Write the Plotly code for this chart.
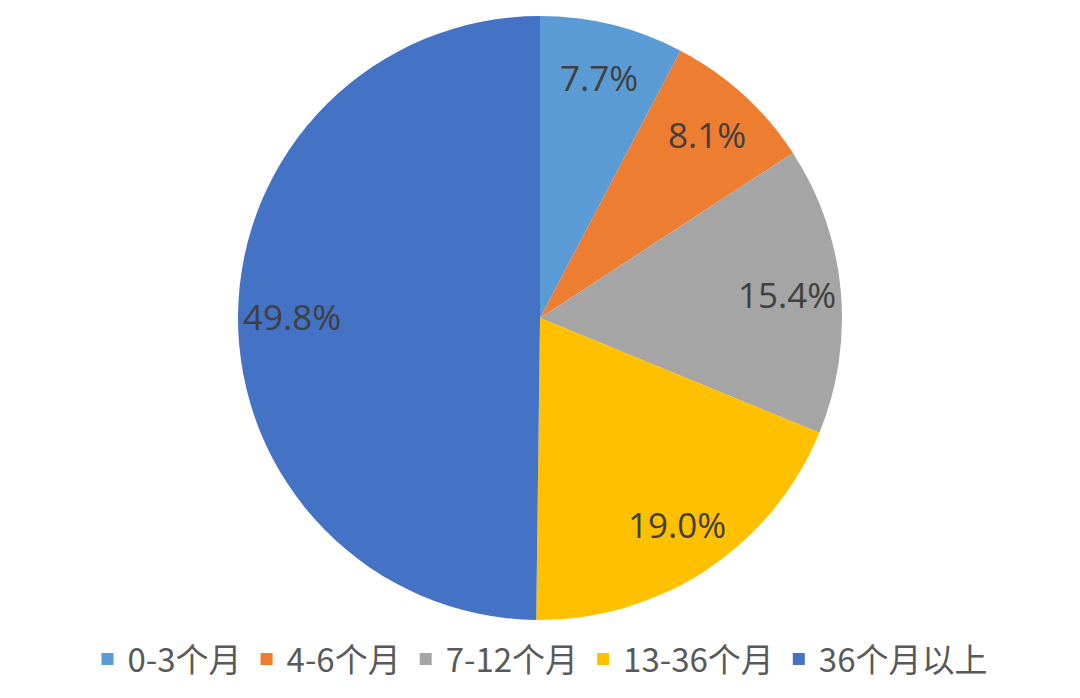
import math

import plotly.graph_objects as go

labels = ["0-3个月", "4-6个月", "7-12个月", "13-36个月", "36个月以上"]
shares = [7.7, 8.1, 15.4, 19.0, 49.8]
colors = ["#5B9BD5", "#ED7D31", "#A5A5A5", "#FFC000", "#4472C4"]

W, H = 1080, 698
# page body has an 8px margin, so figure coords are screen coords minus 8
CX, CY, R = 532, 310, 302
LABEL_R = 0.82

fig = go.Figure(go.Pie(
    labels=labels, values=shares, sort=False, direction="clockwise", rotation=0,
    marker=dict(colors=colors, line=dict(width=0)),
    textinfo="none", hoverinfo="label+percent",
    domain=dict(x=[0, 2 * CX / W], y=[(H - CY - R) / H, (H - CY + R) / H]),
))

# data labels at the slice mid-angles, like Excel's best-fit placement
total = sum(shares)
cum = 0.0
for v in shares:
    mid = (cum + v / 2) / total * 2 * math.pi
    cum += v
    x = CX + LABEL_R * R * math.sin(mid)
    y = CY - LABEL_R * R * math.cos(mid)
    fig.add_annotation(
        x=x / W, y=1 - y / H, xref="paper", yref="paper", text=f"{v:.1f}%", showarrow=False,
        font=dict(family="Open Sans, sans-serif", size=35, color="#404040"),
        xanchor="center", yanchor="middle",
    )

fig.update_layout(
    width=W, height=H, paper_bgcolor="white", margin=dict(l=0, r=0, t=0, b=0),
    legend=dict(orientation="h", x=CX / W, xanchor="center", y=(H - 651) / H, yanchor="middle",
                font=dict(family="Noto Sans CJK SC", size=33, color="#595959")),
)
fig.write_html("out.html")
